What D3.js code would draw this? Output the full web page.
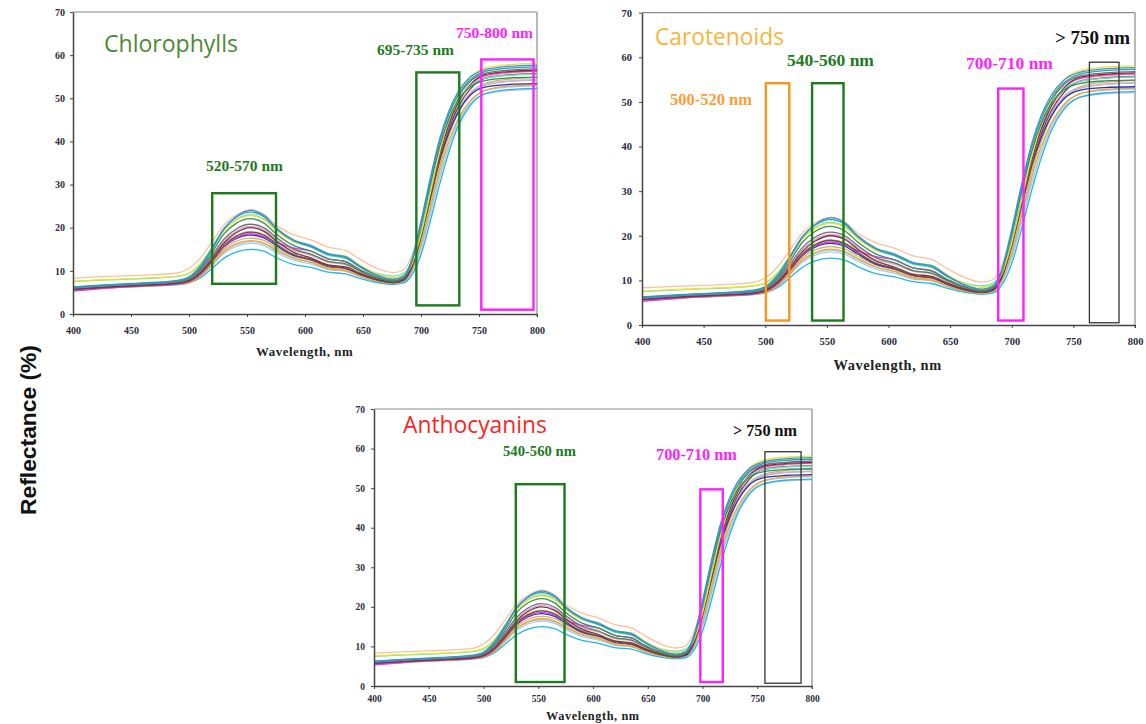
<!DOCTYPE html>
<html><head><meta charset="utf-8">
<script src="https://cdn.jsdelivr.net/npm/d3@7"></script>
<style>body{margin:0;background:#fff} svg{display:block}</style>
</head><body><svg id="c" width="1146" height="724"></svg>
<script>
// ---------------- DATA ----------------
const wavelengths = [400,430,460,490,500,510,520,530,540,553,565,575,590,605,620,635,648,662,676,685,692,700,708,716,724,732,742,755,775,800];
const xTicks = [400,450,500,550,600,650,700,750,800];
const yTicks = [0,10,20,30,40,50,60,70];

const peach     = [8.3,8.7,9.0,9.5,10.6,13.0,16.8,20.6,22.8,24.2,23.0,20.6,18.4,17.2,15.5,14.7,12.6,10.6,9.6,10.2,13.5,20.5,29.5,38.0,44.5,49.0,52.5,54.8,55.8,56.2];
const lilac     = [6.0,6.5,6.8,7.2,7.6,9.0,11.6,14.4,16.0,16.8,16.2,14.7,12.9,12.0,10.7,10.2,8.8,7.6,7.1,7.5,9.8,15.5,23.5,31.8,38.8,44.2,48.5,51.0,51.8,52.1];
const lightSky  = [5.8,6.3,6.6,7.0,7.4,8.8,11.3,14.0,15.6,16.4,15.8,14.3,12.5,11.6,10.3,9.9,8.6,7.5,7.0,7.4,9.6,15.0,23.0,31.5,38.8,44.5,49.0,51.8,52.6,52.9];
const cyan      = [5.6,6.1,6.4,6.8,7.2,8.4,10.6,12.9,14.3,15.0,14.5,13.1,11.5,10.8,9.7,9.3,8.2,7.3,6.9,7.2,9.0,13.8,21.5,30.0,37.5,43.5,48.2,51.0,52.0,52.3];
const orange    = [5.4,6.0,6.4,6.9,7.3,8.8,11.5,14.5,16.2,17.0,16.4,14.9,13.0,12.0,10.5,10.0,8.7,7.6,7.1,7.6,10.0,16.0,24.5,33.0,40.0,45.2,49.3,51.8,52.8,53.1];
const khaki     = [5.6,6.1,6.5,7.0,7.5,9.1,11.9,15.0,16.8,17.6,17.0,15.4,13.4,12.4,10.9,10.4,9.0,7.8,7.2,7.7,10.2,16.5,25.2,34.0,41.2,46.6,50.8,53.4,54.4,54.8];
const lightGreen= [5.9,6.4,6.8,7.2,7.8,9.6,12.8,16.1,18.1,19.1,18.4,16.7,14.6,13.6,12.0,11.4,9.7,8.3,7.5,8.0,10.6,17.2,26.0,34.8,41.8,47.0,50.8,53.0,53.9,54.2];
const lavender  = [5.9,6.4,6.8,7.3,7.9,9.8,13.2,16.8,19.1,20.3,19.4,17.4,14.9,13.8,12.2,11.6,9.9,8.4,7.6,8.2,11.0,18.0,27.0,35.8,42.5,47.5,51.2,53.2,54.0,54.3];
const navy      = [5.7,6.2,6.6,7.0,7.6,9.3,12.3,15.5,17.4,18.3,17.6,15.9,13.6,12.6,11.1,10.6,9.1,7.9,7.3,7.8,10.7,17.8,26.8,35.5,42.0,46.8,50.6,52.6,53.2,53.4];
const magenta   = [5.3,6.0,6.5,7.0,7.5,9.2,12.3,15.6,17.6,18.6,17.9,16.6,15.3,14.6,12.8,12.2,10.1,8.5,7.6,8.2,11.2,18.8,28.2,37.2,44.2,49.2,53.0,55.2,56.0,56.3];
const brown     = [5.7,6.2,6.6,7.1,7.6,9.4,12.4,15.8,17.9,19.0,18.2,16.3,13.8,12.7,11.1,10.6,9.2,7.9,7.3,7.9,10.8,18.0,27.0,35.8,42.8,48.0,52.0,54.6,55.4,55.7];
const maroon    = [5.8,6.3,6.7,7.2,7.8,9.7,12.9,16.4,18.7,20.0,19.1,17.0,14.3,13.0,11.4,10.9,9.4,8.1,7.4,8.0,11.0,18.6,27.8,36.8,43.8,49.0,53.0,55.5,56.2,56.5];
const darkGray  = [6.2,6.7,7.1,7.6,8.2,10.2,13.6,17.3,19.6,20.8,19.9,17.8,15.1,13.9,12.2,11.6,9.9,8.4,7.6,8.3,11.6,19.6,29.0,38.2,45.2,50.2,53.8,55.8,56.5,56.8];
const aquamarine= [7.5,7.9,8.2,8.7,9.4,11.7,15.5,19.5,21.8,23.0,22.0,19.6,16.8,15.5,13.6,12.9,10.9,9.4,8.8,9.4,12.2,19.8,29.0,38.0,44.8,49.5,52.8,54.6,55.3,55.6];
const yellow    = [7.6,8.0,8.3,8.8,9.5,11.6,15.2,19.2,21.6,22.8,21.8,19.4,16.8,15.8,14.0,13.4,11.2,9.3,8.4,9.0,11.5,18.5,28.0,37.5,45.0,50.5,54.8,57.0,57.8,58.1];
const green     = [6.1,6.6,7.0,7.5,8.2,10.5,14.3,18.5,20.9,22.1,21.0,18.6,15.9,14.6,12.8,12.1,10.2,8.5,7.7,8.4,12.0,20.4,30.0,38.8,45.2,49.6,52.6,54.1,54.7,54.9];
const teal      = [6.3,6.8,7.2,7.8,8.6,11.2,15.3,19.8,22.3,23.6,22.5,19.8,17.0,15.6,13.8,13.0,10.8,8.9,8.0,8.8,12.3,21.0,30.8,39.8,46.3,50.8,54.2,56.2,57.0,57.3];
const steelBlue = [6.0,6.6,7.0,7.6,8.4,10.8,15.0,19.6,22.4,24.0,22.8,20.0,17.2,15.9,14.0,13.3,11.0,9.0,8.0,8.7,12.5,21.5,31.5,40.5,47.0,51.5,54.8,56.6,57.4,57.7];

const spectra = [peach,lilac,lightSky,cyan,orange,khaki,lightGreen,lavender,navy,magenta,brown,maroon,darkGray,aquamarine,yellow,green,teal,steelBlue];
const spectraColors = ["#f7c2a0","#c9c0ef","#9fd0f2","#22b5e8","#f0a431","#c9b86a","#a3d38c","#d9a6e3","#2b30c4","#e03ddf","#7b4a45","#8a2e3b","#707070","#62e2c8","#f2e22a","#3c8f5a","#27a3a8","#3f8fd6"];

// Annotation ranges: [nm from, nm to, % from, % to]
const chlBoxes = [[520,575,7,28],[696,733,2,56],[752,797,1,59]];
const carBoxes = [[500.5,519.5,1,54.2],[538,563.5,1,54.2],[689,709.5,1,53],[763,787,0.5,58.9]];
const antBoxes = [[529.5,574,1,51],[698,718.5,1,49.7],[757,790,0.7,59.2]];

// ---------------- DRAW ----------------
const svg = d3.select("#c");
const C = {green:"#1d7a1d", magenta:"#ff1fff", orange:"#f7961e", black:"#333"};
const serif = "'Liberation Serif','Times New Roman',serif";
const sans = "'Liberation Sans',Arial,sans-serif";

function fitText(g, str, x0, x1, cy, family, weight, color, base, ls) {
  const t = g.append("text").text(str).attr("x", x0).attr("y", cy)
    .attr("dominant-baseline","central").attr("font-family",family)
    .attr("font-weight",weight).attr("fill",color).attr("font-size",base);
  if (ls) t.attr("letter-spacing", ls);
  const w = t.node().getComputedTextLength();
  t.attr("font-size", base * (x1 - x0) / w);
  return t;
}

const panels = [
  {x0:73,x1:537,yT:12,yB:314,fs:10,lab:16,ygap:8,wl:{y:352,w:98},boxes:chlBoxes,
   boxColors:[C.green,C.green,C.magenta],
   texts:[["Chlorophylls",104,238,43,"'Open Sans',sans-serif","normal","#4e8a33"],
          ["520-570 nm",206,283,165,serif,"bold",C.green],
          ["695-735 nm",377,454,49,serif,"bold",C.green],
          ["750-800 nm",456,533,32,serif,"bold",C.magenta]]},
  {x0:642,x1:1135,yT:12.7,yB:325,fs:10.5,lab:16.7,ygap:10,wl:{y:365,w:110},boxes:carBoxes,
   boxColors:[C.orange,C.green,C.magenta,C.black],
   texts:[["Carotenoids",655,784,36,"'Open Sans',sans-serif","normal","#f7b53a"],
          ["500-520 nm",670,752,99,serif,"bold","#f7a03a"],
          ["540-560 nm",787,874,60,serif,"bold",C.green],
          ["700-710 nm",966,1053,63,serif,"bold",C.magenta],
          ["> 750 nm",1055,1130,37,serif,"bold","#111"]]},
  {x0:374,x1:812,yT:409,yB:686,fs:9.5,lab:12.3,ygap:9,wl:{y:716,w:94},boxes:antBoxes,
   boxColors:[C.green,C.magenta,C.black],
   texts:[["Anthocyanins",403,547,424,"'Open Sans',sans-serif","normal","#ff1f1f"],
          ["540-560 nm",503,576,451,serif,"bold",C.green],
          ["700-710 nm",656,737,454,serif,"bold",C.magenta],
          ["> 750 nm",733,797,430,serif,"bold","#111"]]}
];

panels.forEach(p => {
  const x = d3.scaleLinear().domain([400,800]).range([p.x0,p.x1]);
  const y = d3.scaleLinear().domain([0,70]).range([p.yB,p.yT]);
  const g = svg.append("g");

  // frame top / right
  g.append("line").attr("x1",p.x0).attr("x2",p.x1).attr("y1",p.yT).attr("y2",p.yT).attr("stroke","#8a8a8a").attr("stroke-width",1.2);
  g.append("line").attr("x1",p.x1).attr("x2",p.x1).attr("y1",p.yT).attr("y2",p.yB+3).attr("stroke","#8a8a8a").attr("stroke-width",1.2);

  // curves
  const line = d3.line().x((d,i)=>x(wavelengths[i])).y(d=>y(d)).curve(d3.curveMonotoneX);
  g.selectAll("path.s").data(spectra).join("path").attr("class","s")
    .attr("d",line).attr("fill","none").attr("stroke",(d,i)=>spectraColors[i])
    .attr("stroke-width",1.3).attr("stroke-linejoin","round");

  // boxes
  g.selectAll("rect.b").data(p.boxes).join("rect").attr("class","b")
    .attr("x",d=>x(d[0])).attr("width",d=>x(d[1])-x(d[0]))
    .attr("y",d=>y(d[3])).attr("height",d=>y(d[2])-y(d[3]))
    .attr("fill","none").attr("stroke",(d,i)=>p.boxColors[i])
    .attr("stroke-width",(d,i)=>p.boxColors[i]===C.black?1.3:2.4);

  // axes
  const xa = g.append("g").attr("transform",`translate(0,${p.yB})`)
    .call(d3.axisBottom(x).tickValues(xTicks).tickSize(3).tickSizeOuter(0).tickPadding(p.lab-3));
  const ya = g.append("g").attr("transform",`translate(${p.x0},0)`)
    .call(d3.axisLeft(y).tickValues(yTicks).tickSize(3).tickSizeOuter(0).tickPadding(p.ygap-3));
  [xa,ya].forEach(a=>{
    a.select(".domain").attr("stroke","#444").attr("stroke-width",1.5);
    a.selectAll(".tick line").attr("stroke","#444");
    a.selectAll("text").attr("font-family",serif).attr("font-weight","bold")
      .attr("font-size",p.fs).attr("fill","#2c2c3c");
  });
  xa.selectAll("text").attr("dy","0.35em");

  // x title
  const cx = (p.x0+p.x1)/2;
  fitText(g,"Wavelength, nm",cx-p.wl.w/2,cx+p.wl.w/2,p.wl.y,serif,"bold","#222",12,"0.6");

  // annotations
  p.texts.forEach(t => fitText(g,t[0],t[1],t[2],t[3],t[4],t[5],t[6],14));
});

// y title
const yt = svg.append("text").text("Reflectance (%)")
  .attr("transform","translate(28,430) rotate(-90)")
  .attr("text-anchor","middle").attr("dominant-baseline","central")
  .attr("font-family",sans).attr("font-weight","bold").attr("font-size",18).attr("fill","#111");
const yw = yt.node().getComputedTextLength();
yt.attr("font-size",18*170/yw);
</script></body></html>
